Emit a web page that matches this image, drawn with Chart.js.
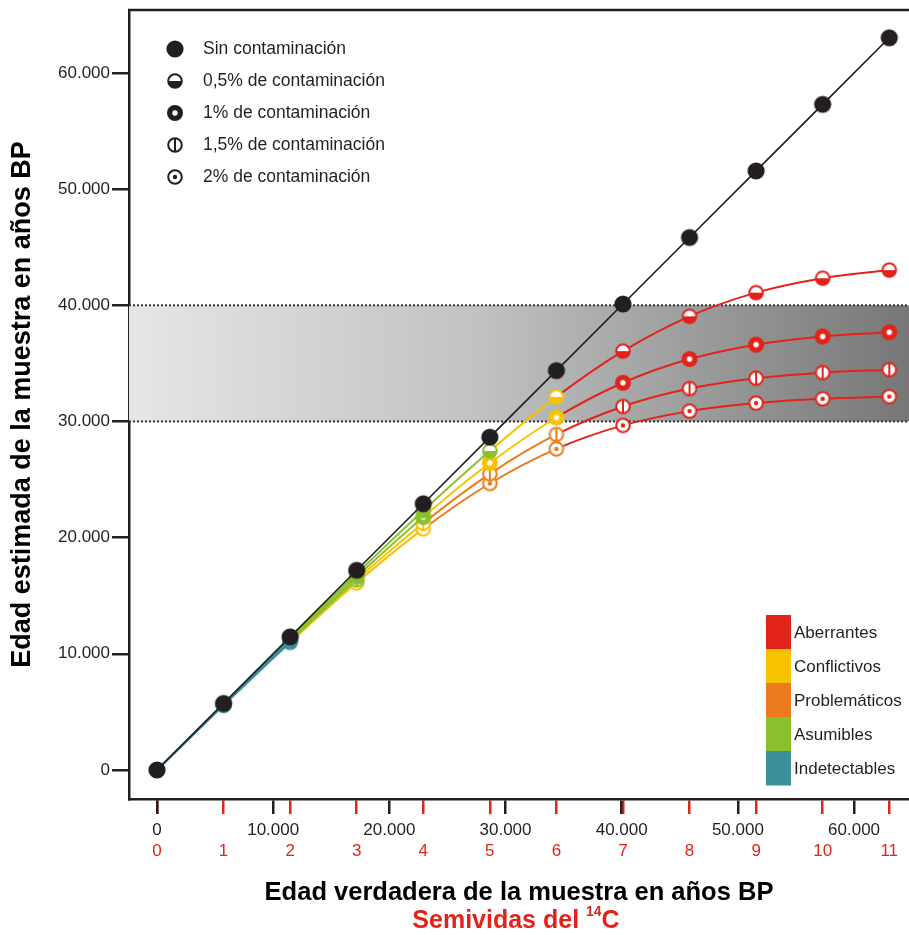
<!DOCTYPE html>
<html lang="es">
<head>
<meta charset="utf-8">
<title>Edad estimada frente a edad verdadera</title>
<script src="https://cdn.jsdelivr.net/npm/chart.js@4.4.1/dist/chart.umd.min.js"></script>
<style>
  html, body { margin: 0; padding: 0; background: #fff; }
  #wrap { width: 909px; height: 935px; }
</style>
</head>
<body>
<div id="wrap"><canvas id="ageChart" width="909" height="935"></canvas></div>
<script>
"use strict"

// Semividas del 14C y su edad verdadera en años BP
const halfLives = [0, 1, 2, 3, 4, 5, 6, 7, 8, 9, 10, 11];
const trueAges = [0, 5730, 11460, 17190, 22920, 28650, 34380, 40110, 45840, 51570, 57300, 63030];

// Edad estimada según el grado de contaminación
const clean = [0, 5730, 11460, 17190, 22920, 28650, 34380, 40110, 45840, 51570, 57300, 63030];
const cont05 = [0, 5690, 11340, 16910, 22320, 27460, 32120, 36050, 39050, 41090, 42330, 43030];
const cont10 = [0, 5650, 11220, 16630, 21770, 26420, 30340, 33330, 35370, 36610, 37310, 37680];
const cont15 = [0, 5610, 11100, 16370, 21240, 25490, 28880, 31290, 32830, 33720, 34200, 34460];
const cont20 = [0, 5570, 10980, 16110, 20750, 24660, 27640, 29660, 30890, 31580, 31950, 32140];

// Categoría de cada resultado: R aberrante, C conflictivo, P problemático, A asumible, I indetectable
const cat05 = ['I', 'I', 'I', 'A', 'A', 'A', 'C', 'R', 'R', 'R', 'R', 'R'];
const cat10 = ['I', 'I', 'I', 'A', 'A', 'C', 'C', 'R', 'R', 'R', 'R', 'R'];
const cat15 = ['I', 'I', 'I', 'A', 'C', 'P', 'P', 'R', 'R', 'R', 'R', 'R'];
const cat20 = ['I', 'I', 'I', 'C', 'C', 'P', 'P', 'R', 'R', 'R', 'R', 'R'];

const xTicks = [0, 10000, 20000, 30000, 40000, 50000, 60000];
const yTicks = [0, 10000, 20000, 30000, 40000, 50000, 60000];

// Franja de edades conflictivas
const bandRange = [30000, 40000];

const seriesNames = ['Sin contaminación', '0,5% de contaminación', '1% de contaminación', '1,5% de contaminación', '2% de contaminación'];
const categoryNames = ['Aberrantes', 'Conflictivos', 'Problemáticos', 'Asumibles', 'Indetectables'];
const categoryKeys = ['R', 'C', 'P', 'A', 'I'];

const ink = '#231f20';
const red = '#e2231a';
const catColors = { R: '#e2231a', C: '#f7c300', P: '#ec7a1c', A: '#8bc02c', I: '#3d8f9b' };
const fontFamily = "'Liberation Sans', Arial, Helvetica, sans-serif";

Chart.defaults.font.family = fontFamily;
Chart.defaults.color = ink;

// Marcadores dibujados en un canvas aparte, uno por forma y color
const markerCache = {};
function marker(kind, color) {
    const key = kind + color;
    if (markerCache[key]) return markerCache[key];

    const c = document.createElement('canvas');
    const size = 22;
    c.width = size;
    c.height = size;
    const g = c.getContext('2d');
    const m = size / 2;

    if (kind === 'solid') {
        g.fillStyle = color;
        g.beginPath(); g.arc(m, m, 8.6, 0, Math.PI * 2); g.fill();
    } else if (kind === 'ring') {
        g.fillStyle = color;
        g.beginPath(); g.arc(m, m, 8, 0, Math.PI * 2); g.fill();
        g.fillStyle = '#fff';
        g.beginPath(); g.arc(m, m, 2.7, 0, Math.PI * 2); g.fill();
    } else {
        const r = 6.8;
        g.fillStyle = '#fff';
        g.beginPath(); g.arc(m, m, r, 0, Math.PI * 2); g.fill();
        g.fillStyle = color;
        g.strokeStyle = color;
        g.lineWidth = 2;
        if (kind === 'half') {
            g.beginPath(); g.arc(m, m, r, 0, Math.PI); g.closePath(); g.fill();
        } else if (kind === 'bar') {
            g.beginPath(); g.moveTo(m, m - r); g.lineTo(m, m + r); g.stroke();
        } else if (kind === 'dot') {
            g.beginPath(); g.arc(m, m, 2.2, 0, Math.PI * 2); g.fill();
        }
        g.beginPath(); g.arc(m, m, r, 0, Math.PI * 2); g.stroke();
    }
    markerCache[key] = c;
    return c;
}

const markerKinds = ['solid', 'half', 'ring', 'bar', 'dot'];

function thousands(v) {
    return String(v).replace(/\B(?=(\d{3})+(?!\d))/g, '.');
}

function toPoints(values) {
    return values.map((v, i) => ({ x: trueAges[i], y: v }));
}

// Serie contaminada: color del punto y del tramo que llega a él
function contaminatedSet(label, values, cats, kind) {
    return {
        label: label,
        data: toPoints(values),
        borderWidth: 2,
        cubicInterpolationMode: 'monotone',
        pointRadius: 8,
        pointStyle: ctx => marker(kind, catColors[cats[ctx.dataIndex]]),
        borderColor: catColors.I,
        segment: {
            borderColor: ctx => catColors[cats[ctx.p1DataIndex]]
        }
    };
}

// Ticks del eje x: años BP en negro y semividas en rojo
const xTickList = [];
halfLives.forEach((n, i) => xTickList.push({ value: trueAges[i], half: true, n: n }));
xTicks.forEach(v => xTickList.push({ value: v, half: false }));

const bandPlugin = {
    id: 'band',
    beforeDatasetsDraw(chart) {
        const { ctx, chartArea: a, scales: { y } } = chart;
        const top = y.getPixelForValue(bandRange[1]);
        const bottom = y.getPixelForValue(bandRange[0]);
        const grad = ctx.createLinearGradient(a.left, 0, a.right, 0);
        grad.addColorStop(0, '#e6e6e6');
        grad.addColorStop(0.45, '#c0c1c1');
        grad.addColorStop(1, '#777777');
        ctx.save();
        ctx.fillStyle = grad;
        ctx.fillRect(a.left, top, a.right - a.left, bottom - top);
        ctx.strokeStyle = '#333';
        ctx.lineWidth = 2;
        ctx.setLineDash([2, 2]);
        [top, bottom].forEach(py => {
            ctx.beginPath();
            ctx.moveTo(a.left, py);
            ctx.lineTo(a.right, py);
            ctx.stroke();
        });
        ctx.restore();
    }
};

const decorPlugin = {
    id: 'decor',
    afterDraw(chart) {
        const { ctx, chartArea: a, scales: { x } } = chart;
        ctx.save();

        // borde superior del marco
        ctx.strokeStyle = ink;
        ctx.lineWidth = 2.5;
        ctx.beginPath();
        ctx.moveTo(a.left - 1, a.top);
        ctx.lineTo(a.right, a.top);
        ctx.stroke();

        // leyenda de series
        ctx.font = '17.5px ' + fontFamily;
        ctx.textBaseline = 'middle';
        ctx.fillStyle = ink;
        seriesNames.forEach((name, i) => {
            const py = a.top + 39 + i * 32;
            const mk = marker(markerKinds[i], ink);
            ctx.drawImage(mk, 175 - mk.width / 2, py - mk.height / 2);
            ctx.fillText(name, 203, py);
        });

        // leyenda de categorías
        categoryNames.forEach((name, i) => {
            const top = 615 + i * 34;
            ctx.fillStyle = catColors[categoryKeys[i]];
            ctx.fillRect(766, top, 25, 34.5);
            ctx.fillStyle = ink;
            ctx.font = '17px ' + fontFamily;
            ctx.fillText(name, 794, top + 18);
        });

        // segunda línea del título del eje x
        const cx = (x.left + x.right) / 2 - 3;
        const cy = 921;
        ctx.fillStyle = red;
        ctx.font = 'bold 25px ' + fontFamily;
        const part1 = 'Semividas del ';
        const w1 = ctx.measureText(part1).width;
        const w3 = ctx.measureText('C').width;
        ctx.font = 'bold 14px ' + fontFamily;
        const w2 = ctx.measureText('14').width;
        let px = cx - (w1 + w2 + w3) / 2;
        ctx.textAlign = 'left';
        ctx.font = 'bold 25px ' + fontFamily;
        ctx.fillText(part1, px, cy);
        px += w1;
        ctx.font = 'bold 14px ' + fontFamily;
        ctx.fillText('14', px, cy - 9);
        px += w2;
        ctx.font = 'bold 25px ' + fontFamily;
        ctx.fillText('C', px, cy);

        ctx.restore();
    }
};

const chart = new Chart(document.getElementById('ageChart'), {
    type: 'line',
    data: {
        datasets: [
            {
                label: seriesNames[0],
                data: toPoints(clean),
                borderColor: ink,
                borderWidth: 1.6,
                tension: 0,
                pointRadius: 8,
                pointStyle: marker('solid', ink)
            },
            contaminatedSet(seriesNames[1], cont05, cat05, 'half'),
            contaminatedSet(seriesNames[2], cont10, cat10, 'ring'),
            contaminatedSet(seriesNames[3], cont15, cat15, 'bar'),
            contaminatedSet(seriesNames[4], cont20, cat20, 'dot')
        ]
    },
    options: {
        responsive: false,
        animation: false,
        layout: { autoPadding: false, padding: { top: 10, right: 0, left: 0, bottom: 0 } },
        plugins: {
            legend: { display: false },
            tooltip: { enabled: false }
        },
        scales: {
            x: {
                type: 'linear',
                position: 'bottom',
                min: -2410,
                max: 64730,
                afterBuildTicks: scale => { scale.ticks = xTickList.map(t => Object.assign({}, t)); },
                afterFit: scale => {
                    scale.height = 136;
                    scale.paddingLeft = 0;
                    scale.paddingRight = 0;
                },
                border: { display: true, color: ink, width: 2.5 },
                grid: {
                    drawOnChartArea: false,
                    drawTicks: true,
                    tickLength: 15,
                    lineWidth: 2.5,
                    tickWidth: 2.5,
                    tickColor: ctx => (ctx.tick && ctx.tick.half ? red : ink)
                },
                ticks: {
                    autoSkip: false,
                    maxRotation: 0,
                    minRotation: 0,
                    padding: 6,
                    font: { size: 17, lineHeight: 1.22 },
                    color: ctx => (ctx.tick && ctx.tick.half ? red : ink),
                    callback: (value, index, ticks) => ticks[index].half ? ['', String(ticks[index].n)] : thousands(value)
                },
                title: {
                    display: true,
                    text: 'Edad verdadera de la muestra en años BP',
                    color: '#000',
                    font: { size: 25.5, weight: 'bold', lineHeight: 1.2 },
                    padding: { top: 0, bottom: 27 }
                }
            },
            y: {
                type: 'linear',
                min: -2500,
                max: 65420,
                afterBuildTicks: scale => { scale.ticks = yTicks.map(v => ({ value: v })); },
                afterFit: scale => {
                    scale.width = 129;
                    scale.paddingTop = 0;
                    scale.paddingBottom = 0;
                },
                border: { display: true, color: ink, width: 2.5 },
                grid: {
                    drawOnChartArea: false,
                    drawTicks: true,
                    tickLength: 17,
                    lineWidth: 2.5,
                    tickWidth: 2.5,
                    tickColor: ink
                },
                ticks: {
                    padding: 2,
                    font: { size: 17 },
                    color: ink,
                    callback: value => thousands(value)
                },
                title: {
                    display: true,
                    text: 'Edad estimada de la muestra en años BP',
                    color: '#000',
                    font: { size: 27, weight: 'bold', lineHeight: 1.2 },
                    padding: { top: 6, bottom: 0 }
                }
            }
        }
    },
    plugins: [bandPlugin, decorPlugin]
});
</script>
</body>
</html>
